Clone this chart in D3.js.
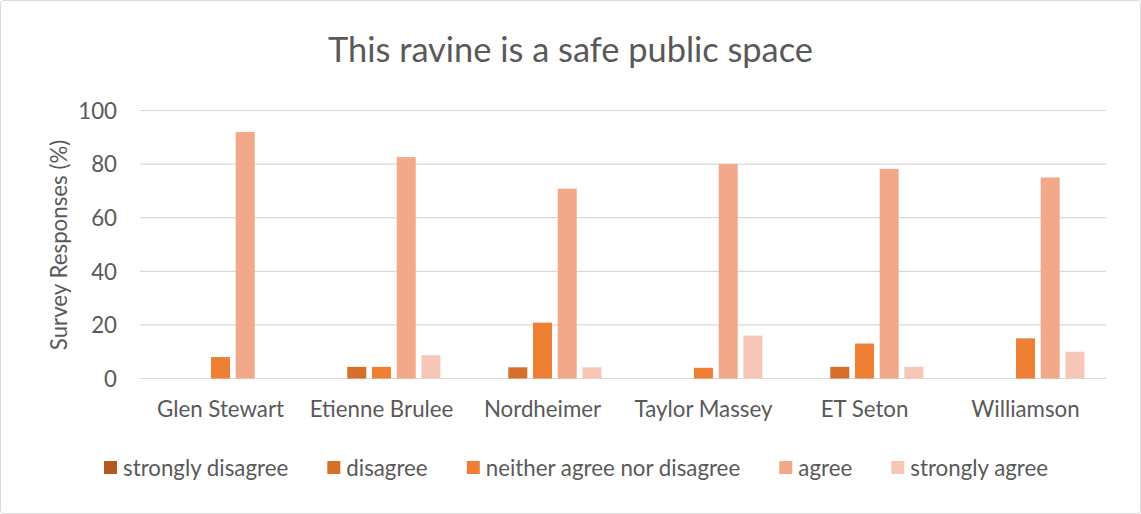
<!DOCTYPE html>
<html>
<head>
<meta charset="utf-8">
<script src="https://cdn.jsdelivr.net/npm/d3@7"></script>
<style>
  html, body { margin: 0; padding: 0; background: #fff; }
  svg { display: block; }
  text { font-family: Lato, "Open Sans", sans-serif; fill: #595959; }
</style>
</head>
<body>
<svg id="chart" width="1141" height="514"></svg>
<script>
const title = "This ravine is a safe public space";
const yAxisTitle = "Survey Responses (%)";
const categories = ["Glen Stewart", "Etienne Brulee", "Nordheimer", "Taylor Massey", "ET Seton", "Williamson"];
const seriesNames = ["strongly disagree", "disagree", "neither agree nor disagree", "agree", "strongly agree"];
const seriesColors = ["#B5581F", "#D66F29", "#EE7F33", "#F2A98A", "#F6C6B6"];
const stronglyDisagree = [0, 0, 0, 0, 0, 0];
const disagree = [0, 4.35, 4.17, 0, 4.35, 0];
const neither = [8, 4.35, 20.83, 4, 13.04, 15];
const agree = [92, 82.61, 70.83, 80, 78.26, 75];
const stronglyAgree = [0, 8.7, 4.17, 16, 4.35, 10];
const yTicks = [0, 20, 40, 60, 80, 100];

const seriesValues = [stronglyDisagree, disagree, neither, agree, stronglyAgree];

const svg = d3.select("#chart");
const W = 1141, H = 514;
const plot = { left: 140, right: 1106, top: 110.5, bottom: 378.5 };

svg.append("rect").attr("x", 0.5).attr("y", 0.5).attr("width", W - 1).attr("height", H - 1)
  .attr("rx", 3).attr("fill", "#fff").attr("stroke", "#D9D9D9");

function measure(str, size) {
  const p = svg.append("text").style("font-size", size + "px").text(str);
  const w = p.node().getComputedTextLength();
  p.remove();
  return w;
}

const x0 = d3.scaleBand().domain(categories).range([plot.left, plot.right]).padding(0);
const groupW = 123.5;
const x1 = d3.scaleBand().domain(seriesNames).range([0, groupW]).paddingInner(0.23).paddingOuter(0.115);
const y = d3.scaleLinear().domain([0, 100]).range([plot.bottom, plot.top]);

svg.append("g").selectAll("line").data(yTicks).join("line")
  .attr("x1", plot.left).attr("x2", plot.right)
  .attr("y1", d => y(d)).attr("y2", d => y(d))
  .attr("stroke", "#D9D9D9").attr("stroke-width", 1.2);

// label font size fitted to reference text widths
const refs = [["Glen Stewart", 125], ["strongly disagree", 165], ["neither agree nor disagree", 257]];
const mSum = d3.sum(refs, r => measure(r[0], 18));
const tSum = d3.sum(refs, r => r[1]);
const labelSize = 18 * tSum / mSum;

const yAxis = d3.axisLeft(y).tickValues(yTicks).tickSize(0).tickPadding(0).tickFormat(d3.format("d"));
const yg = svg.append("g").attr("transform", `translate(${plot.left - 23},0)`).call(yAxis);
yg.select(".domain").remove();
yg.selectAll("text").style("font-size", labelSize + "px").attr("fill", "#595959")
  .style("font-family", "Lato, 'Open Sans', sans-serif").attr("dy", "0.35em");

const xAxis = d3.axisBottom(x0).tickSize(0).tickPadding(0);
const xg = svg.append("g").attr("transform", `translate(0,${plot.bottom})`).call(xAxis);
xg.select(".domain").remove();
xg.selectAll("text").style("font-size", labelSize + "px").attr("fill", "#595959")
  .style("font-family", "Lato, 'Open Sans', sans-serif").attr("dy", null).attr("y", 38);

const offset = (x0.bandwidth() - groupW) / 2;
const groups = svg.append("g").selectAll("g").data(categories).join("g")
  .attr("transform", c => `translate(${x0(c) + offset},0)`);
groups.selectAll("rect")
  .data((c, ci) => seriesNames.map((s, si) => ({ s, si, v: seriesValues[si][ci] })))
  .join("rect")
  .attr("x", d => x1(d.s))
  .attr("width", x1.bandwidth())
  .attr("y", d => y(d.v))
  .attr("height", d => y(0) - y(d.v))
  .attr("fill", d => seriesColors[d.si]);

const titleSize = 30 * 485 / measure(title, 30);
svg.append("text").attr("x", 570.5).attr("y", 62).attr("text-anchor", "middle")
  .style("font-size", titleSize + "px").text(title);

svg.append("text").attr("transform", `translate(67,245) rotate(-90)`)
  .attr("text-anchor", "middle").style("font-size", labelSize + "px").text(yAxisTitle);

// legend spread between reference start and end
const legStart = 104, legEnd = 1048, sq = 13, sqGap = 6;
const widths = seriesNames.map(n => measure(n, labelSize));
const itemsW = d3.sum(widths) + seriesNames.length * (sq + sqGap);
const gap = (legEnd - legStart - itemsW) / (seriesNames.length - 1);
const legend = svg.append("g");
let lx = legStart;
const ly = 468;
seriesNames.forEach((name, i) => {
  legend.append("rect").attr("x", lx).attr("y", ly - 7).attr("width", sq).attr("height", sq)
    .attr("fill", seriesColors[i]);
  legend.append("text").attr("x", lx + sq + sqGap).attr("y", ly).attr("dy", "0.35em")
    .style("font-size", labelSize + "px").text(name);
  lx += sq + sqGap + widths[i] + gap;
});
</script>
</body>
</html>
